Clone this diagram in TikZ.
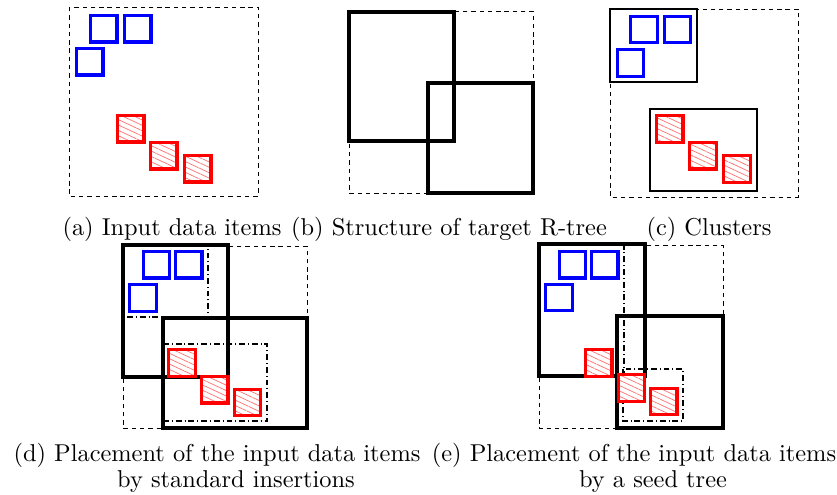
\documentclass[tikz,border=0pt]{standalone}
\usetikzlibrary{patterns.meta}

\begin{document}
\begin{tikzpicture}[
  x=0.41pt, y=-0.41pt,
  item/.style = {line width=1.3pt, preaction={fill=white}},
  blue item/.style = {item, draw=blue},
  red item/.style = {item, draw=red, pattern={Lines[angle=-25,distance=2pt,line width=0.3pt]}, pattern color=red!55},
  rnode/.style = {line width=1.6pt},
  bound/.style = {line width=0.4pt, dash pattern=on 1.8pt off 1.6pt},
  cluster/.style = {line width=0.6pt},
  group/.style = {line width=0.5pt, dash pattern=on 2.4pt off 1.2pt on 0.4pt off 1.2pt},
  subcap/.style = {anchor=base, inner sep=0pt}
  ]
	\useasboundingbox (0,0) rectangle (837,495);

	% (a) input data items
	\draw[bound] (69,7) rectangle (258,196);
	\foreach \x/\y in {90.5/15.5, 124.5/15.5, 76.5/48.5}
		\draw[blue item] (\x,\y) rectangle ++(26.5,26.5);
	\foreach \x/\y in {117.5/115.5, 150.5/142.5, 184.5/155.5}
		\draw[red item] (\x,\y) rectangle ++(26.5,26.5);

	% (b) target R-tree
	\draw[bound] (349,11) rectangle (533,193);
	\draw[rnode] (349,12) rectangle (454,141);
	\draw[rnode] (428,83) rectangle (533,193);

	% (c) clusters
	\draw[bound] (610,9) rectangle (798,197);
	\draw[cluster] (610,9) rectangle (697,82);
	\draw[cluster] (650,109) rectangle (757,191);
	\foreach \x/\y in {630.8/16.2, 664.2/16.2, 617.2/49.8}
		\draw[blue item] (\x,\y) rectangle ++(26.5,26.5);
	\foreach \x/\y in {656.5/115.8, 689.8/142.5, 723.8/155.8}
		\draw[red item] (\x,\y) rectangle ++(26.5,26.5);

	% (d) standard insertions
	\draw[bound] (123,246) rectangle (307,428);
	\draw[group] (123,245) rectangle (208,317);
	\draw[group] (164,344) rectangle (267,421);
	\draw[rnode] (123,245) rectangle (228,377);
	\draw[rnode] (163,318) rectangle (307,428);
	\foreach \x/\y in {143.2/251.5, 175.5/251.5, 129.8/284.8}
		\draw[blue item] (\x,\y) rectangle ++(26.5,26.5);
	\foreach \x/\y in {168.8/349.8, 201.5/376.5, 234.2/389.2}
		\draw[red item] (\x,\y) rectangle ++(26.5,26.5);

	% (e) seed tree
	\draw[bound] (539,245) rectangle (723,428);
	\draw[group] (539,245) rectangle (624,376);
	\draw[group] (623,369) rectangle (683,421);
	\draw[rnode] (539,244) rectangle (645,376);
	\draw[rnode] (617,316) rectangle (723,428);
	\foreach \x/\y in {559.2/251.5, 591.5/251.5, 545.8/284.2}
		\draw[blue item] (\x,\y) rectangle ++(26.5,26.5);
	\foreach \x/\y in {585.5/349.8, 618.2/374.8, 650.5/388.2}
		\draw[red item] (\x,\y) rectangle ++(26.5,26.5);

	% captions
	\node[subcap] (cap-a) at (172,236) {(a) Input data items};
	\node[subcap] (cap-b) at (449,236) {(b) Structure of target R-tree};
	\node[subcap] (cap-c) at (709,236) {(c) Clusters};
	\node[subcap] (cap-d) at (217,462) {(d) Placement of the input data items};
	\node[subcap] (cap-d2) at (236,488) {by standard insertions};
	\node[subcap] (cap-e) at (634,462) {(e) Placement of the input data items};
	\node[subcap] (cap-e2) at (653,488) {by a seed tree};

\end{tikzpicture}
\end{document}
